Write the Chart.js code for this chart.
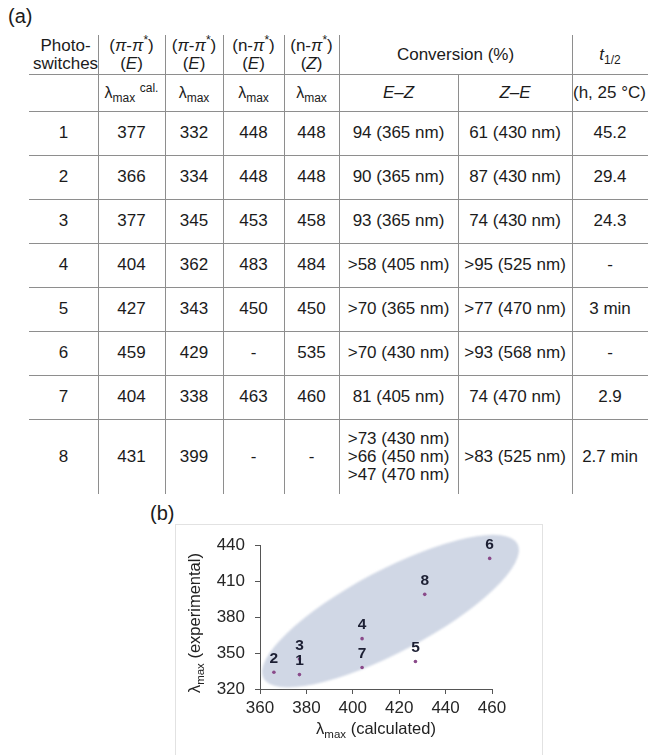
<!DOCTYPE html>
<html><head><meta charset="utf-8">
<script src="https://cdn.jsdelivr.net/npm/chart.js@4.4.1/dist/chart.umd.min.js"></script>
<style>
html,body{margin:0;padding:0;background:#fff;}
body{width:648px;height:755px;position:relative;overflow:hidden;font-family:"Liberation Sans",Arial,sans-serif;color:#1b1b1b;}
.lbl{position:absolute;font-size:20px;}
.cell{position:absolute;display:flex;align-items:center;justify-content:center;text-align:center;font-size:17px;line-height:18px;white-space:nowrap;}
.cell>span{display:block;}
.hl{position:absolute;height:1px;background:#8e8e8e;}
.vl{position:absolute;width:1px;background:#8e8e8e;}
sub,sup{font-size:12px;line-height:0;}
#box{position:absolute;left:175px;top:524px;width:366px;height:240px;border:1px solid #e2e2e2;}
#chart{position:absolute;left:0;top:0;}
</style></head>
<body>
<div class="lbl" style="left:8px;top:5px;">(a)</div>
<div id="table"></div>
<div class="lbl" style="left:150px;top:502px;">(b)</div>
<div id="box"><canvas id="chart" width="366" height="230" style="width:366px;height:230px"></canvas></div>
<script>
// ---- data ----
const categories = ['1','2','3','4','5','6','7','8'];
const lambdaCalc = [377, 366, 377, 404, 427, 459, 404, 431];
const lambdaExp  = [332, 334, 345, 362, 343, 429, 338, 399];
const lambdaNE   = ['448','448','453','483','450','-','463','-'];
const lambdaNZ   = ['448','448','458','484','450','535','460','-'];
const convEZ = ['94 (365 nm)','90 (365 nm)','93 (365 nm)','>58 (405 nm)','>70 (365 nm)','>70 (430 nm)','81 (405 nm)','>73 (430 nm)\n>66 (450 nm)\n>47 (470 nm)'];
const convZE = ['61 (430 nm)','87 (430 nm)','74 (430 nm)','>95 (525 nm)','>77 (470 nm)','>93 (568 nm)','74 (470 nm)','>83 (525 nm)'];
const halfLife = ['45.2','29.4','24.3','-','3 min','-','2.9','2.7 min'];
const xTickRange = {min:360, max:460, step:20};
const yTickRange = {min:320, max:440, step:30};

// ---- table (a) ----
const colEdges=[29,98,165,223,284,339,458,572,648];
const rowEdges=[35,74,111,155,199,243,287,331,375,419,494];
const tbl=document.getElementById('table');
function esc(s){return s.replace(/&/g,'&amp;').replace(/</g,'&lt;').replace(/>/g,'&gt;').replace(/\n/g,'<br>');}
function cell(html,c0,c1,r0,r1,style){
  const d=document.createElement('div');d.className='cell';
  d.style.left=colEdges[c0]+'px';d.style.width=(colEdges[c1]-colEdges[c0])+'px';
  d.style.top=rowEdges[r0]+'px';d.style.height=(rowEdges[r1]-rowEdges[r0])+'px';
  if(style)d.style.cssText+=style;
  d.innerHTML='<span>'+html+'</span>';tbl.appendChild(d);
}
const pi='<i>&pi;</i>';
cell('Photo-<br>switches',0,1,0,1,'padding-left:4px;box-sizing:border-box;');
cell('('+pi+'-'+pi+'<sup>*</sup>)<br>(<i>E</i>)',1,2,0,1);
cell('('+pi+'-'+pi+'<sup>*</sup>)<br>(<i>E</i>)',2,3,0,1);
cell('(n-'+pi+'<sup>*</sup>)<br>(<i>E</i>)',3,4,0,1);
cell('(n-'+pi+'<sup>*</sup>)<br>(<i>Z</i>)',4,5,0,1);
cell('Conversion (%)',5,7,0,1);
cell('<i>t</i><sub>1/2</sub>',7,8,0,1);
cell('',0,1,1,2);
cell('&lambda;<sub>max</sub> <sup>cal.</sup>',1,2,1,2,'font-size:16px;');
cell('&lambda;<sub>max</sub>',2,3,1,2,'font-size:16px;');
cell('&lambda;<sub>max</sub>',3,4,1,2,'font-size:16px;');
cell('&lambda;<sub>max</sub>',4,5,1,2,'font-size:16px;');
cell('<i>E</i>&ndash;<i>Z</i>',5,6,1,2);
cell('<i>Z</i>&ndash;<i>E</i>',6,7,1,2);
cell('(h, 25 &deg;C)',7,8,1,2,'justify-content:flex-start;padding-left:1px;box-sizing:border-box;');
for(let i=0;i<categories.length;i++){
  const vals=[categories[i],String(lambdaCalc[i]),String(lambdaExp[i]),lambdaNE[i],lambdaNZ[i],convEZ[i],convZE[i],halfLife[i]];
  vals.forEach((v,c)=>cell(esc(v),c,c+1,i+2,i+3));
}
for(let r=1;r<=9;r++){
  const d=document.createElement('div');d.className='hl';
  d.style.left=colEdges[0]+'px';d.style.width=(648-colEdges[0])+'px';d.style.top=rowEdges[r]+'px';tbl.appendChild(d);
}
for(let c=1;c<=7;c++){
  const d=document.createElement('div');d.className='vl';
  const top = colEdges[c]===458 ? rowEdges[1] : rowEdges[0];
  d.style.left=colEdges[c]+'px';d.style.top=top+'px';d.style.height=(rowEdges[10]-top)+'px';tbl.appendChild(d);
}

// ---- chart (b) ----
const FAM="'Liberation Sans', Arial, sans-serif";
// highlight ellipse defined in data space: major-axis end points + half width (px)
const ellipseEnds=[{x:361.5,y:329},{x:471,y:441}];
const ellipseHalfWidth=41;

const ellipsePlugin={id:'ellipse',beforeDatasetsDraw(chart){
  const {ctx,scales:{x,y}}=chart;
  const p0={x:x.getPixelForValue(ellipseEnds[0].x),y:y.getPixelForValue(ellipseEnds[0].y)};
  const p1={x:x.getPixelForValue(ellipseEnds[1].x),y:y.getPixelForValue(ellipseEnds[1].y)};
  const cx=(p0.x+p1.x)/2, cy=(p0.y+p1.y)/2;
  const a=Math.hypot(p1.x-p0.x,p1.y-p0.y)/2;
  const ang=Math.atan2(p1.y-p0.y,p1.x-p0.x);
  ctx.save();
  ctx.filter='blur(0.8px)';
  ctx.fillStyle='#d0d7e5';
  ctx.beginPath();ctx.ellipse(cx,cy,a,ellipseHalfWidth,ang,0,Math.PI*2);ctx.fill();
  ctx.restore();
}};
const labelPlugin={id:'ptlabels',afterDatasetsDraw(chart){
  const {ctx}=chart;const meta=chart.getDatasetMeta(0);
  ctx.save();ctx.font='bold 15.5px '+FAM;ctx.fillStyle='#1c1f33';ctx.textAlign='center';ctx.textBaseline='middle';
  meta.data.forEach((pt,i)=>{ctx.fillText(categories[i],pt.x,pt.y-13.5);});
  ctx.restore();
}};
function drawSubText(ctx,parts){
  let w=0;parts.forEach(p=>{ctx.font=p.font;p.w=ctx.measureText(p.t).width;w+=p.w;});
  let xx=-w/2;parts.forEach(p=>{ctx.font=p.font;ctx.fillText(p.t,xx,p.dy);xx+=p.w;});
}
const titlePlugin={id:'axtitles',afterDraw(chart){
  const {ctx,chartArea:ca}=chart;
  ctx.save();ctx.fillStyle='#222';ctx.textAlign='left';ctx.textBaseline='alphabetic';
  const big='16.5px '+FAM, small='11.5px '+FAM;
  ctx.save();ctx.translate((ca.left+ca.right)/2,209);
  drawSubText(ctx,[{t:'\u03bb',font:big,dy:0},{t:'max',font:small,dy:4},{t:' (calculated)',font:big,dy:0}]);
  ctx.restore();
  ctx.save();ctx.translate(24,(ca.top+ca.bottom)/2+6);ctx.rotate(-Math.PI/2);
  drawSubText(ctx,[{t:'\u03bb',font:big,dy:0},{t:'max',font:small,dy:4},{t:' (experimental)',font:big,dy:0}]);
  ctx.restore();
  ctx.restore();
}};

new Chart(document.getElementById('chart'),{
  type:'scatter',
  data:{datasets:[{data:lambdaCalc.map((v,i)=>({x:v,y:lambdaExp[i]})),pointRadius:1.8,pointHoverRadius:1.8,backgroundColor:'#8a4a8a',borderWidth:0}]},
  options:{
    responsive:false,animation:false,devicePixelRatio:1,
    layout:{padding:{top:16,right:50,left:0,bottom:0}},
    plugins:{legend:{display:false},tooltip:{enabled:false}},
    scales:{
      x:{type:'linear',min:xTickRange.min,max:xTickRange.max,
        ticks:{stepSize:xTickRange.step,font:{size:17,family:FAM},color:'#262626',padding:4,maxRotation:0},
        grid:{display:true,drawOnChartArea:false,drawTicks:true,tickLength:5,color:'#555',lineWidth:1},
        border:{display:true,color:'#555',width:1},
        afterFit(s){s.height=66;}},
      y:{type:'linear',min:yTickRange.min,max:yTickRange.max,
        ticks:{stepSize:yTickRange.step,font:{size:17,family:FAM},color:'#262626',padding:10},
        grid:{display:true,drawOnChartArea:false,drawTicks:true,tickLength:5,color:'#555',lineWidth:1},
        border:{display:true,color:'#555',width:1},
        afterFit(s){s.width=84;}}
    }
  },
  plugins:[ellipsePlugin,labelPlugin,titlePlugin]
});
</script>
</body></html>
